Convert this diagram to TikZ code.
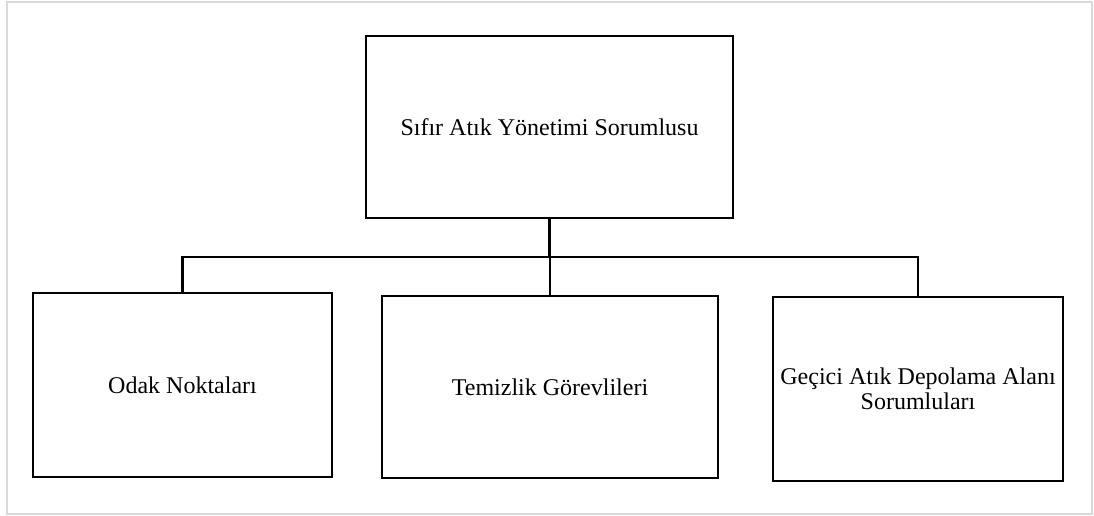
\documentclass[tikz,border=0pt]{standalone}
\usepackage{fontspec}
\setmainfont{Liberation Serif}
\usetikzlibrary{positioning}

\begin{document}
\begin{tikzpicture}[
    x=1pt, y=-1pt,
    font=\fontsize{24}{25}\selectfont,
    frame/.style={draw=black!15, line width=1.6pt},
    box/.style={draw, line width=2.6pt, align=center, inner sep=4pt},
    conn/.style={-, line width=2.6pt}
]
\useasboundingbox (0,0) rectangle (1094,516);

% =========================================================
% 1) OUTER FRAME
% =========================================================
\draw[frame] (7,2) rectangle (1092,514);

% =========================================================
% 2) BOXES
% =========================================================
\node[box, minimum width=367pt, minimum height=182pt] (sifir) at (549.5,127)
{S\i f\i r At\i k Yönetimi Sorumlusu};

\node[box, minimum width=299pt, minimum height=184pt] (odak) at (182.5,385)
{Odak Noktalar\i};

\node[box, minimum width=336pt, minimum height=182pt] (temizlik) at (550,387)
{Temizlik Görevlileri};

\node[box, minimum width=290pt, minimum height=184pt] (gecici) at (918,389)
{Geçici At\i k Depolama Alan\i\\Sorumlular\i};

% =========================================================
% 3) CONNECTORS
% =========================================================
\coordinate (bus) at (549.5,257);
\draw[conn] (sifir.south) -- (bus);
\draw[conn] (bus) -| (odak.north);
\draw[conn] (bus) -| (temizlik.north);
\draw[conn] (bus) -| (gecici.north);

\end{tikzpicture}
\end{document}
